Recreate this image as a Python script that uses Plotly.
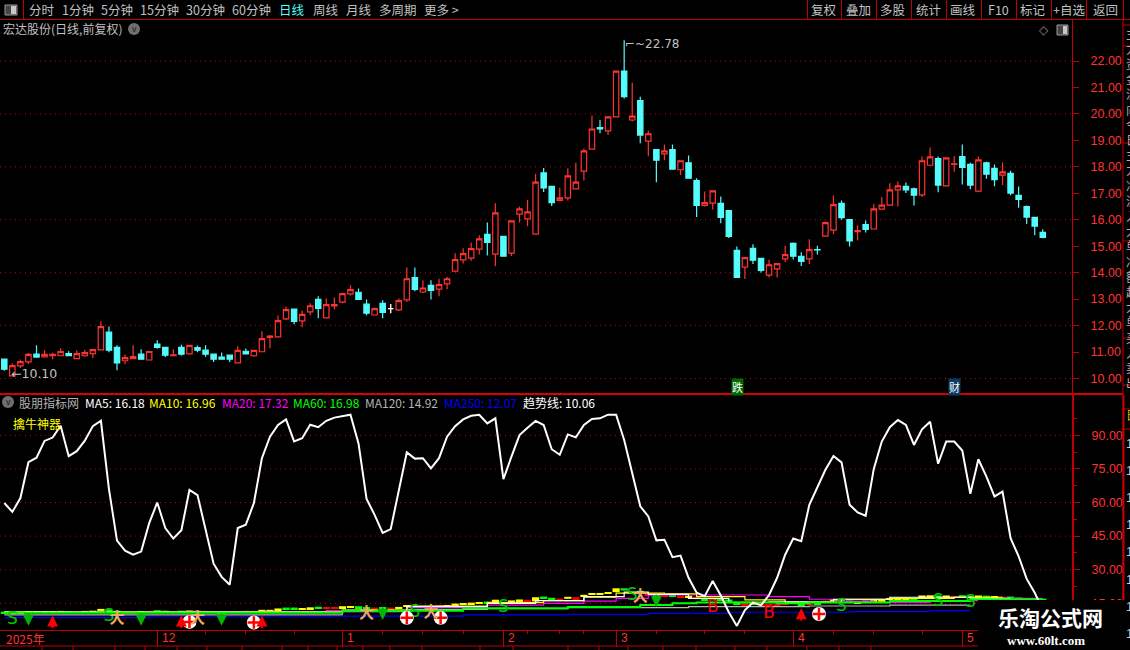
import plotly.graph_objects as go

W, H = 1130, 650

# upper panel, daily candles
opens = [10.73,10.10,10.48,10.63,10.92,10.82,10.86,10.86,10.94,10.75,
         10.86,10.94,11.08,11.75,11.18,10.67,10.75,10.92,10.70,11.30,
         11.18,10.86,11.18,10.93,11.17,11.07,10.92,10.81,10.88,10.59,
         11.03,10.86,11.01,11.55,11.57,12.25,12.62,12.18,12.52,12.99,
         12.29,12.74,12.89,13.20,13.26,12.81,12.40,12.84,12.64,12.59,
         12.97,13.81,13.27,13.52,13.38,13.58,14.06,14.48,14.55,14.89,
         15.45,14.70,15.37,14.74,16.21,16.03,15.46,17.77,17.26,16.73,
         16.83,17.17,17.84,18.67,19.48,19.36,19.89,21.62,19.77,20.50,
         18.97,18.65,18.49,18.65,17.89,18.15,17.48,16.54,16.63,16.62,
         16.35,14.84,14.21,14.92,14.54,13.91,14.14,14.52,15.11,14.62,
         14.52,14.87,15.38,15.61,16.62,16.01,15.55,15.82,15.65,16.40,
         16.55,17.13,17.26,17.17,16.94,18.06,18.31,17.28,18.09,18.39,
         18.09,17.08,18.15,17.94,17.69,17.75,16.92,16.50,16.09,15.52]
highs = [10.73,10.57,10.72,10.96,11.26,11.07,10.97,11.14,11.03,11.06,
         11.09,11.11,12.16,11.97,11.26,10.91,11.26,11.11,11.04,11.45,
         11.18,11.11,11.28,11.26,11.25,11.26,10.93,10.98,10.91,11.22,
         11.13,11.07,11.79,11.64,12.38,12.72,12.62,12.57,12.84,13.11,
         13.03,13.06,13.22,13.52,13.40,12.99,12.68,12.96,12.82,13.02,
         14.20,14.20,13.71,13.71,13.77,13.85,14.73,14.92,15.14,15.41,
         15.90,16.62,15.37,15.97,16.50,16.75,17.74,17.96,17.26,17.21,
         17.95,18.15,18.69,19.94,19.77,19.89,21.62,22.78,21.18,20.65,
         19.37,18.65,18.84,18.84,18.24,18.43,17.57,17.07,17.11,16.88,
         16.35,14.99,14.58,15.07,14.54,14.49,14.35,15.02,15.14,14.77,
         15.26,15.02,15.92,16.92,16.73,16.01,15.79,15.97,16.60,16.86,
         17.38,17.45,17.41,17.22,18.39,18.73,18.39,18.34,18.40,18.84,
         18.15,18.39,18.19,18.09,18.16,17.85,17.26,16.54,16.09,15.64]
lows = [10.29,10.10,10.40,10.55,10.78,10.79,10.73,10.84,10.84,10.74,
        10.82,10.77,11.07,10.99,10.31,10.54,10.74,10.73,10.69,11.12,
        10.81,10.84,10.87,10.92,10.99,10.82,10.62,10.72,10.62,10.58,
        10.92,10.81,10.99,11.14,11.56,12.21,12.05,11.94,12.39,12.28,
        12.28,12.62,12.84,13.14,12.98,12.39,12.39,12.28,12.47,12.55,
        12.89,13.30,13.23,12.99,13.11,13.37,14.05,14.35,14.45,14.69,
        14.65,14.24,14.62,14.63,15.90,15.75,15.46,17.05,16.52,16.72,
        16.73,17.15,17.48,18.65,19.27,19.20,19.87,20.58,19.71,18.89,
        18.40,17.42,18.25,17.90,17.69,17.56,16.10,16.50,16.39,15.87,
        15.31,13.82,13.76,14.33,14.01,13.82,13.82,14.40,14.50,14.25,
        14.33,14.69,15.37,15.45,16.00,14.99,15.22,15.52,15.64,16.39,
        16.55,16.50,17.01,16.54,16.86,18.06,17.04,17.27,17.81,17.33,
        17.15,17.04,17.55,17.27,17.31,16.93,16.45,15.84,15.41,15.30]
closes = [10.35,10.49,10.64,10.91,10.81,10.91,10.91,11.02,10.86,10.94,
          10.98,11.09,11.96,11.07,10.59,10.79,10.83,10.73,11.02,11.18,
          10.88,10.89,10.92,11.25,11.07,10.92,10.73,10.73,10.73,11.06,
          10.93,11.06,11.51,11.60,12.19,12.60,12.16,12.42,12.75,12.65,
          12.79,12.79,13.21,13.36,12.99,12.47,12.64,12.50,12.64,12.94,
          13.77,13.37,13.42,13.33,13.55,13.77,14.49,14.72,14.91,15.28,
          15.14,16.26,14.62,15.96,16.41,16.30,17.42,17.20,16.65,16.83,
          17.66,17.42,18.60,19.43,19.43,19.89,21.62,20.65,19.92,19.20,
          19.25,18.25,18.60,17.91,18.23,17.57,16.54,16.65,17.09,16.09,
          15.37,13.82,14.57,14.47,14.09,14.30,14.34,14.68,14.62,14.43,
          14.87,14.86,15.89,16.57,16.08,15.20,15.59,15.64,16.41,16.55,
          17.13,17.28,17.13,16.93,18.23,18.38,17.31,18.34,18.11,17.98,
          17.31,18.26,17.72,17.52,17.81,17.01,16.77,16.10,15.76,15.33]
days = list(range(len(opens)))
white_doji = 48

price_ticks = [10,11,12,13,14,15,16,17,18,19,20,21,22]
price_grid = [10,12,14,16,18,20,22]
osc_ticks = [90,75,60,45,30,15]
osc_minor = [97.5,82.5,67.5,52.5,37.5,22.5,7.5]

# lower panel, the white oscillator
osc = [59.8,55.8,62.0,78.0,80.0,87.5,89.0,94.3,80.7,82.9,
       87.6,94.1,96.5,66.0,43.0,38.5,36.7,38.1,50.8,60.0,
       48.6,43.9,47.6,65.6,63.3,47.9,32.7,26.8,23.3,48.6,
       50.1,59.7,79.8,89.4,94.6,97.1,87.3,88.7,94.7,93.6,
       96.5,97.9,98.7,99.2,86.4,61.6,54.5,46.4,48.1,65.6,
       82.4,79.6,79.8,75.2,79.8,89.4,94.1,97.1,98.7,99.2,
       95.3,97.6,70.4,80.5,90.1,93.4,96.4,94.6,83.8,81.3,
       90.4,89.1,94.6,97.3,97.6,99.2,99.2,87.9,73.1,58.3,
       53.8,43.1,43.4,35.6,36.3,26.4,19.7,18.2,25.0,18.5,
       11.0,4.9,12.0,15.3,14.2,18.7,26.4,36.7,43.9,42.7,
       59.0,67.2,74.6,80.8,77.9,59.0,55.6,54.1,74.9,87.2,
       93.6,96.8,94.6,85.7,92.7,96.1,77.3,87.2,87.2,83.2,
       63.9,79.3,71.6,62.7,64.9,44.1,36.0,25.9,19.7,12.0]

# small candle band at the foot of the lower panel
band_hi = [11.3,11.1,11.2,11.5,11.5,11.5,11.5,11.6,11.5,11.5,
           11.6,11.7,12.5,12.3,11.7,11.4,11.4,11.5,11.6,11.9,
           11.7,11.5,11.7,11.8,11.7,11.6,11.5,11.4,11.5,11.6,
           11.6,11.6,12.1,12.1,12.7,13.1,13.1,12.9,13.2,13.5,
           13.3,13.3,13.7,13.8,13.7,13.3,13.1,13.3,13.1,13.4,
           14.2,14.2,13.9,14.0,14.0,14.2,14.9,15.1,15.3,15.6,
           15.8,16.6,15.7,16.3,16.7,16.6,17.7,18.0,17.5,17.1,
           17.9,17.7,18.8,19.6,19.6,20.0,21.7,21.7,20.1,20.6,
           19.4,18.8,18.8,18.8,18.4,18.4,17.7,17.0,17.4,16.9,
           16.7,15.2,15.0,15.3,14.9,14.7,14.7,15.1,15.5,15.0,
           15.3,15.2,16.2,16.9,16.9,16.3,15.9,16.2,16.7,16.8,
           17.4,17.5,17.5,17.4,18.5,18.6,18.5,18.5,18.3,18.6,
           18.3,18.5,18.4,18.2,18.0,18.0,17.6,17.2,17.2,17.1]
band_lo = [11.0,10.7,11.1,11.2,11.4,11.4,11.4,11.4,11.4,11.3,
           11.4,11.5,11.6,11.3,11.2,11.3,11.3,11.3,11.3,11.7,
           11.4,11.4,11.5,11.5,11.6,11.5,11.3,11.3,11.3,11.2,
           11.5,11.4,11.6,12.0,12.1,12.8,12.7,12.7,13.0,13.1,
           12.8,13.2,13.4,13.6,13.5,13.0,12.9,13.0,12.9,13.1,
           13.4,13.8,13.7,13.8,13.8,14.0,14.5,14.9,14.9,15.3,
           15.5,15.1,15.0,15.1,16.5,16.4,15.8,17.5,16.9,17.0,
           17.0,17.4,18.1,18.9,19.5,19.5,20.0,20.7,19.9,19.4,
           19.1,18.5,18.7,18.1,18.1,17.8,16.8,16.9,16.9,16.4,
           15.7,14.2,14.6,14.9,14.5,14.3,14.6,15.0,15.0,14.8,
           15.0,15.1,15.7,16.0,16.4,15.6,15.8,16.0,16.0,16.7,
           16.9,17.4,17.4,17.2,17.2,18.3,17.6,17.5,18.3,18.2,
           17.6,17.4,18.0,17.8,17.9,17.3,17.2,16.8,16.5,16.6]
band_kind = list("gyyyyyyygr" "yyyggrrgrg" "grgyggggg" "r"
                 "yyyyyggyyg" "rryyggrgry" "ygygyyyyyy" "gygyyryggr"
                 "yryyyyyggg" "rgrgryrggg" "ggrgrrrrgg" "rgrygg" "yyyy"
                 "yyygyygyrg" "gygyrggggg")

# moving averages hold flat between these days
ma_days = {
    "gray": [0,42,50,60,70,85,100,110,120],
    "blue": [0,18,42,57,70,80,90,105,115,120],
    "magenta": [22,40,50,60,67,72,76,80,95,100,103,108,115,122,129],
    "yellow": [0,42,50,60,67,72,76,82,86,92,97,104,110,118,124],
    "white": [0,42,50,60,66,72,77,80,85,90,95,103,110,120,125],
    "green": [0,42,57,70,79,83,86,96,100,110,120,129],
}
ma_vals = {
    "gray": [9.8,11.3,12.3,12.6,13.1,13.5,13.8,14.2,14.2],
    "blue": [8.6,9.0,9.3,9.8,10.1,10.5,11.0,11.3,11.7,11.7],
    "magenta": [11.3,11.7,13.2,14.2,15.0,16.0,17.2,18.7,18.0,16.8,16.0,15.4,16.2,17.2,17.2],
    "yellow": [11.1,12.0,13.8,15.3,16.2,17.7,19.5,19.2,18.0,16.5,15.4,16.8,17.2,17.7,17.7],
    "white": [11.1,11.8,13.5,15.0,16.2,18.0,20.0,19.0,17.2,15.4,15.7,16.8,17.7,17.2,17.2],
    "green": [10.8,11.7,12.8,13.3,14.2,15.0,15.4,15.0,15.4,16.0,16.8,16.8],
}
ma_colors = {"gray": "#b4b4b4", "blue": "#0000ff", "magenta": "#ff00ff",
             "yellow": "#ffff00", "white": "#ffffff", "green": "#00ff00"}

s_days, s_vals = [1,13,51,62,78,104,116,120], [7.6,9.0,10.7,12.9,18.2,13.5,15.7,15.1]
b_days, b_vals = [88,95], [12.9,10.2]
man_days, man_vals = [14,24,45,53,79], [8.0,8.0,9.9,10.6,17.9]
plus_days, plus_vals = [23,31,50,54.2,101.2], [6.7,6.4,8.5,8.5,10.2]
down_days, down_vals = [3,17,27,47,81], [5.0,5.0,5.0,7.6,13.2]
up_days, up_vals = [6,22,32,99], [9.5,9.5,9.5,12.8]

legend_text = ["股朋指标网","MA5: 16.18","MA10: 16.96","MA20: 17.32","MA60: 16.98","MA120: 14.92","MA250: 12.07","趋势线: 10.06"]
legend_color = ["#b4b4b4","#ffffff","#ffff00","#ff00ff","#00ff00","#b4b4b4","#0000ff","#ffffff"]
legend_x = [18,84,148,221,292,364,443,522]

menu_left = ["分时","1分钟","5分钟","15分钟","30分钟","60分钟","日线","周线","月线","多周期","更多 >"]
menu_left_x = [28,61,100,139,185,231,278,312,345,378,423]
menu_right = ["复权","叠加","多股","统计","画线","F10","标记","+自选","返回"]
menu_right_x = [824,858,893,928,963,998,1033,1069,1105]
menu_cuts = [807,841,876,911,946,981,1016,1051,1086,1123]

month_days = [19,42,62,76,98,119]
month_text = ["12","1","2","3","4","5"]
week_days = [25,30,36,47,52,57,65,69,72,81,87,92,103,108,114]
tab_cuts = [42,73,115,145,177,207,242,282,308,337,363,390,422,480,513,568,599,628,663,696,735,767,807,839,871]

side_text = ["主","力","资","金","流","向","今","日","主","力","净","流","入","大","单","净","额","超","大","单","买","入","卖","出"]
side_nums = ["1","1","1","1","1","1","1","1"]

RED = "#ff3232"
DARK = "#c00000"
FONT = "Noto Sans CJK SC"
LINK = "Liberation Sans"

fig = go.Figure()

# band first so the lines lie over it
band_h = [max(a - b, 0.8) for a, b in zip(band_hi, band_lo)]
kinds = {"y": "#ffff00", "g": "#00ff00", "r": "#ff0000"}
fig.add_trace(go.Bar(x=days, y=band_h, base=[a - h for a, h in zip(band_hi, band_h)],
                     marker_color=[kinds[k] for k in band_kind], marker_line_width=0,
                     width=0.9, xaxis="x2", yaxis="y2"))

for name in ["gray", "blue", "magenta", "yellow", "white", "green"]:
    fig.add_trace(go.Scatter(x=ma_days[name], y=ma_vals[name], mode="lines",
                             line=dict(color=ma_colors[name], shape="hv", width=2 if name == "green" else 1.2),
                             xaxis="x2", yaxis="y2"))

fig.add_trace(go.Scatter(x=days, y=osc, mode="lines", line=dict(color="#ffffff", width=2),
                         xaxis="x2", yaxis="y2"))

fig.add_trace(go.Scatter(x=s_days, y=s_vals, mode="text", text=["S"] * len(s_days),
                         textfont=dict(color="#00c800", size=17, family="DejaVu Sans"), xaxis="x2", yaxis="y2"))
fig.add_trace(go.Scatter(x=b_days, y=b_vals, mode="text", text=["B"] * len(b_days),
                         textfont=dict(color="#ff0000", size=17, family="DejaVu Sans"), xaxis="x2", yaxis="y2"))
fig.add_trace(go.Scatter(x=plus_days, y=plus_vals, mode="markers",
                         marker=dict(symbol="circle", size=14, color="#ffffff"), xaxis="x2", yaxis="y2"))
fig.add_trace(go.Scatter(x=plus_days, y=plus_vals, mode="markers",
                         marker=dict(symbol="cross-thin", size=9, line=dict(color="#ff0000", width=2.5)),
                         xaxis="x2", yaxis="y2"))
fig.add_trace(go.Scatter(x=man_days, y=man_vals, mode="text", text=["<b>大</b>"] * len(man_days),
                         textfont=dict(color="#f0a860", size=15, family=FONT), xaxis="x2", yaxis="y2"))

# candles
fig.add_trace(go.Candlestick(x=days, open=opens, high=highs, low=lows, close=closes,
                             increasing=dict(line=dict(color=RED, width=1.2), fillcolor="#000000"),
                             decreasing=dict(line=dict(color="#54fcfc", width=1.2), fillcolor="#54fcfc"),
                             whiskerwidth=0, xaxis="x", yaxis="y"))
fig.add_trace(go.Candlestick(x=[white_doji], open=[opens[white_doji]], high=[highs[white_doji]],
                             low=[lows[white_doji]], close=[closes[white_doji]],
                             increasing=dict(line=dict(color="#ffffff", width=1.2), fillcolor="#ffffff"),
                             decreasing=dict(line=dict(color="#ffffff", width=1.2), fillcolor="#ffffff"),
                             whiskerwidth=0, xaxis="x", yaxis="y"))


def px_x(x):
    return x / W


def px_y(y):
    return 1 - y / H


def rule(x0, y0, x1, y1, color=DARK, width=1):
    fig.add_shape(type="line", xref="paper", yref="paper", x0=px_x(x0), y0=px_y(y0), x1=px_x(x1), y1=px_y(y1),
                  line=dict(color=color, width=width))


def label(x, y, text, color="#c0c0c0", size=12.5, family=FONT, anchor="left", **kw):
    fig.add_annotation(xref="paper", yref="paper", x=px_x(x), y=px_y(y), text=text, showarrow=False,
                       xanchor=anchor, yanchor="middle", font=dict(color=color, size=size, family=family),
                       borderpad=0, **kw)


# grid
for v in price_grid:
    fig.add_shape(type="line", xref="x domain", yref="y", x0=0, x1=1, y0=v, y1=v, layer="below",
                  line=dict(color=DARK, width=1, dash="1px,4px"))
for v in osc_ticks:
    fig.add_shape(type="line", xref="x domain", yref="y2", x0=0, x1=1, y0=v, y1=v, layer="below",
                  line=dict(color=DARK, width=1, dash="1px,4px"))

# frame
rule(0, 19.5, W, 19.5)
rule(0, 394, 1123, 394, "#d80000", 2)
rule(1123, 20, 1123, 630)
rule(1123.5, 395, 1123.5, 630, DARK, 2)
rule(23.5, 0, 23.5, 19)
for x in menu_cuts:
    rule(x + 0.5, 0, x + 0.5, 19)
rule(0, 646, 1072, 646)
for x in tab_cuts:
    rule(x, 646, x, H)
for y in [25, 46, 143, 241, 338, 385, 409, 429]:
    rule(1123, y, W, y)

# toolbar icon
fig.add_shape(type="rect", xref="paper", yref="paper", x0=px_x(5), x1=px_x(17), y0=px_y(15), y1=px_y(5),
              line=dict(color="#9a9a9a", width=1), fillcolor="#444444")
fig.add_shape(type="rect", xref="paper", yref="paper", x0=px_x(11), x1=px_x(16), y0=px_y(14), y1=px_y(6),
              line=dict(width=0), fillcolor="#c8c8c8")
fig.add_shape(type="rect", xref="paper", yref="paper", x0=px_x(1057), x1=px_x(1068), y0=px_y(35), y1=px_y(25),
              line=dict(color="#9a9a9a", width=1), fillcolor="#444444")
fig.add_shape(type="rect", xref="paper", yref="paper", x0=px_x(1063), x1=px_x(1067), y0=px_y(34), y1=px_y(26),
              line=dict(width=0), fillcolor="#c8c8c8")
for cx, cy in [(134, 29), (8, 402)]:
    fig.add_shape(type="circle", xref="paper", yref="paper", x0=px_x(cx - 6), x1=px_x(cx + 6),
                  y0=px_y(cy + 6), y1=px_y(cy - 6), line=dict(width=0), fillcolor="#707070")
    label(cx, cy, "v", "#1a1a1a", 9, LINK, "center")

# cover for the site stamp, bottom right
fig.add_shape(type="rect", xref="paper", yref="paper", x0=px_x(978), x1=1, y0=0, y1=px_y(600),
              line=dict(width=0), fillcolor="#000000", layer="above")

for t, x in zip(menu_left, menu_left_x):
    label(x, 10, t, "#54fcfc" if t == "日线" else "#c0c0c0")
for t, x in zip(menu_right, menu_right_x):
    label(x, 10, t, anchor="center")

label(2, 29, "宏达股份(日线,前复权)", size=12)
label(1044, 30, "◇", "#8a8a8a", 12, "DejaVu Sans", "center")
for t, c, x in zip(legend_text, legend_color, legend_x):
    label(x, 402, t, c, 12)
label(12, 424, "擒牛神器", "#ffff00", 12)

label(731, 386.5, "跌", "#ffffff", 11, bgcolor="#006a00")
label(948, 386.5, "财", "#ffffff", 11, bgcolor="#0d3a66")

fig.add_annotation(x=77, y=highs[77], xref="x", yref="y", text="⌐~22.78", showarrow=False, xanchor="left",
                   yshift=-4, xshift=-1, font=dict(color="#c0c0c0", size=12, family="DejaVu Sans"))
fig.add_annotation(x=1, y=lows[1], xref="x", yref="y", text="←10.10", showarrow=False, xanchor="left",
                   yshift=2, xshift=-3, font=dict(color="#c0c0c0", size=12.5, family="DejaVu Sans"))

for d, v in zip(down_days, down_vals):
    fig.add_annotation(x=d, y=v, xref="x2", yref="y2", ax=0, ay=-14, text="", showarrow=True,
                       arrowhead=2, arrowsize=1.1, arrowwidth=2, arrowcolor="#00b400")
for d, v in zip(up_days, up_vals):
    fig.add_annotation(x=d, y=v, xref="x2", yref="y2", ax=0, ay=14, text="", showarrow=True,
                       arrowhead=2, arrowsize=1.1, arrowwidth=2, arrowcolor="#ff0000")

# bottom time axis text
label(5, 638, "2025年", RED, 12)
for d, t in zip(month_days, month_text):
    fig.add_annotation(x=d, y=0, xref="x2", yref="paper", yanchor="middle", text=t, showarrow=False, xanchor="left",
                       xshift=3, yshift=12, font=dict(color=RED, size=12, family=LINK))

# clipped side column
for i, t in enumerate(side_text):
    label(1125, 33 + i * 15.2, t, "#b0b0b0", 12)
label(1125, 415, "日", "#c8c800", 12)
for i, t in enumerate(side_nums):
    label(1125, 443 + i * 27.2, t, "#d0d0d0", 13, LINK)

# site stamp
label(1050, 617, "<b>乐淘公式网</b>", "#ffffff", 21, "Noto Sans CJK SC", "center")
label(1046, 640, "<b>www.60lt.com</b>", "#ffffff", 13, "Liberation Serif", "center")

axis_font = dict(color=RED, size=12.5, family=LINK)
fig.update_layout(
    width=W, height=H,
    margin=dict(l=0, r=0, t=0, b=0),
    paper_bgcolor="#000000", plot_bgcolor="#000000",
    showlegend=False, barmode="overlay", boxgap=0.05, hovermode=False,
    xaxis=dict(domain=[0, 1072 / W], range=[-0.534, 132.63], showgrid=False, zeroline=False,
               showticklabels=False, ticks="", rangeslider_visible=False, anchor="y"),
    yaxis=dict(domain=[1 - 394 / H, 1 - 20 / H], range=[9.414, 23.55], side="right", anchor="x",
               tickvals=price_ticks, ticktext=["%.2f" % v for v in price_ticks], showgrid=False, zeroline=False,
               showline=True, linecolor=DARK, linewidth=1, ticks="outside", ticklen=6, tickcolor=DARK,
               tickfont=axis_font, ticklabelstandoff=9),
    xaxis2=dict(domain=[0, 1072 / W], range=[-0.534, 132.63], matches="x", anchor="y2", showgrid=False, zeroline=False,
                showline=True, linecolor=DARK, linewidth=1, tickvals=month_days, ticktext=[""] * len(month_days),
                ticks="outside", ticklen=16, tickcolor=DARK,
                minor=dict(tickvals=week_days, ticks="outside", ticklen=3, tickcolor=DARK, showgrid=False)),
    yaxis2=dict(domain=[1 - 630 / H, 1 - 395 / H], range=[3.08, 108], side="right", anchor="x2",
                tickvals=osc_ticks, ticktext=["%.2f" % v for v in osc_ticks], showgrid=False, zeroline=False,
                showline=True, linecolor=DARK, linewidth=2, ticks="outside", ticklen=6, tickcolor=DARK,
                tickfont=axis_font, ticklabelstandoff=9,
                minor=dict(tickvals=osc_minor, ticks="outside", ticklen=3, tickcolor=DARK, showgrid=False)),
)

# the default page margin would push the chart 8px in
fig.write_html("out.html", config=dict(displayModeBar=False),
               post_script="document.body.style.margin='0';document.body.style.background='#000';")
